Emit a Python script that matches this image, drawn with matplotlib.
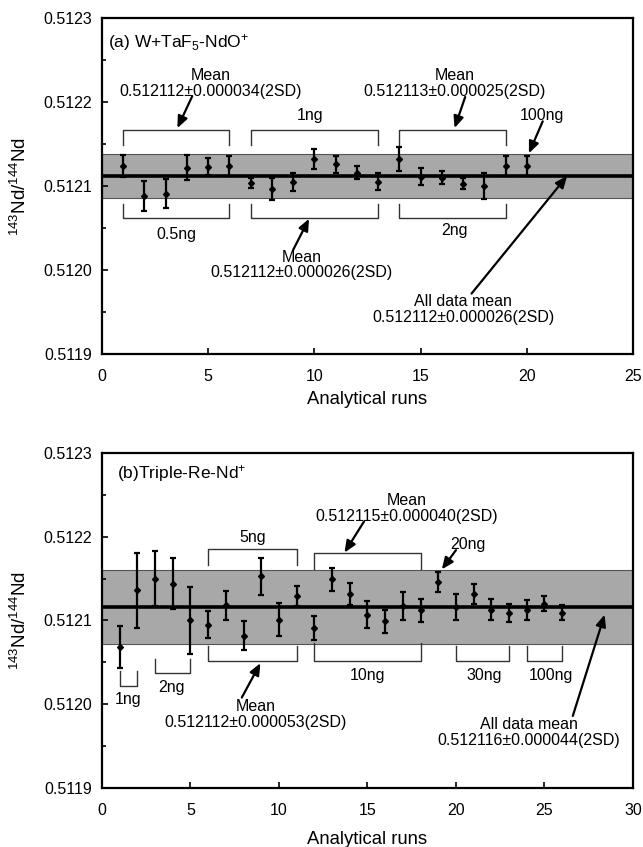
import matplotlib.pyplot as plt
from matplotlib.ticker import MultipleLocator, FormatStrFormatter

plt.rcParams['font.family'] = ['Liberation Sans', 'DejaVu Sans']
plt.rcParams['mathtext.default'] = 'regular'

# ---- (a) W+TaF5-NdO+ ----
runs_a = list(range(1, 21))
nd_a = [0.512124, 0.512088, 0.512091, 0.512122, 0.512123, 0.512124, 0.512104,
        0.512096, 0.512105, 0.512132, 0.512126, 0.512116, 0.512105, 0.512132,
        0.512111, 0.512110, 0.512103, 0.512100, 0.512124, 0.512124]
err_a = [0.000013, 0.000018, 0.000017, 0.000015, 0.000010, 0.000012, 0.000006,
         0.000013, 0.000011, 0.000012, 0.000010, 0.000008, 0.000010, 0.000014,
         0.000010, 0.000008, 0.000007, 0.000015, 0.000012, 0.000012]
mean_a, sd_a = 0.512112, 0.000026

# ---- (b) Triple-Re-Nd+ ----
runs_b = list(range(1, 27))
nd_b = [0.512068, 0.512136, 0.512150, 0.512144, 0.512100, 0.512095, 0.512118,
        0.512082, 0.512153, 0.512101, 0.512129, 0.512091, 0.512149, 0.512132,
        0.512107, 0.512099, 0.512117, 0.512112, 0.512146, 0.512116, 0.512132,
        0.512113, 0.512109, 0.512113, 0.512120, 0.512109]
err_b = [0.000025, 0.000045, 0.000033, 0.000030, 0.000040, 0.000016, 0.000017,
         0.000017, 0.000022, 0.000020, 0.000012, 0.000014, 0.000014, 0.000013,
         0.000016, 0.000014, 0.000017, 0.000014, 0.000012, 0.000016, 0.000012,
         0.000013, 0.000011, 0.000012, 0.000009, 0.000009]
mean_b, sd_b = 0.512116, 0.000044

# 括号: (起点, 终点, 横线y, 端点y)
brackets_a = [(1, 6, 0.512167, 0.512149), (7, 13, 0.512167, 0.512149),
              (14, 19, 0.512167, 0.512149), (1, 6, 0.512062, 0.512079),
              (7, 13, 0.512062, 0.512079), (14, 19, 0.512062, 0.512079)]
brackets_b = [(6, 11, 0.512185, 0.512166), (12, 18, 0.512180, 0.512162),
              (1, 2, 0.512022, 0.512040), (3, 5, 0.512037, 0.512054),
              (6, 11, 0.512052, 0.512069), (12, 18, 0.512052, 0.512073),
              (20, 23, 0.512052, 0.512069), (24, 26, 0.512052, 0.512069)]

# 文字: (x, y, 内容)
labels_a = [(3.5, 0.512042, '0.5ng'), (9.8, 0.512184, '1ng'), (16.6, 0.512047, '2ng'),
            (5.1, 0.512222, 'Mean\n0.512112±0.000034(2SD)'),
            (16.6, 0.512222, 'Mean\n0.512113±0.000025(2SD)'),
            (20.7, 0.512184, '100ng'),
            (9.4, 0.512006, 'Mean\n0.512112±0.000026(2SD)'),
            (17.0, 0.511953, 'All data mean\n0.512112±0.000026(2SD)')]
labels_b = [(8.5, 0.512199, '5ng'), (20.7, 0.512191, '20ng'),
            (17.2, 0.512234, 'Mean\n0.512115±0.000040(2SD)'),
            (1.45, 0.512006, '1ng'), (3.95, 0.512020, '2ng'),
            (15.0, 0.512034, '10ng'), (21.6, 0.512034, '30ng'), (25.35, 0.512034, '100ng'),
            (8.7, 0.511988, 'Mean\n0.512112±0.000053(2SD)'),
            (24.1, 0.511966, 'All data mean\n0.512116±0.000044(2SD)')]

# 箭头: (尾x, 尾y, 头x, 头y)
arrows_a = [(4.25, 0.512207, 3.55, 0.512169), (17.1, 0.512206, 16.6, 0.512169),
            (20.75, 0.512177, 20.1, 0.512139), (9.0, 0.512024, 9.75, 0.512061),
            (17.4, 0.511972, 21.9, 0.512112)]
arrows_b = [(14.8, 0.512218, 13.7, 0.512181), (20.0, 0.512184, 19.2, 0.512161),
            (7.9, 0.512008, 8.95, 0.512049), (26.6, 0.511986, 28.4, 0.512107)]


def draw_panel(ax, runs, nd, err, mean, sd, xmax, title, title_pos, brackets, labels, arrows):
    ax.axhspan(mean - sd, mean + sd, facecolor='#a8a8a8', edgecolor='#555555', linewidth=0.8, zorder=1)
    ax.axhline(mean, color='black', linewidth=2.6, zorder=2)
    ax.errorbar(runs, nd, yerr=err, fmt='D', color='black', markersize=3,
                elinewidth=1.6, capsize=2.5, capthick=1.6, zorder=4)
    for x0, x1, yl, ye in brackets:
        ax.plot([x0, x0, x1, x1], [ye, yl, yl, ye], color='#333333', linewidth=1.0, zorder=3)
    for x, y, s in labels:
        ax.text(x, y, s, ha='center', va='center', fontsize=11.5, linespacing=1.05, zorder=5)
    for x0, y0, x1, y1 in arrows:
        ax.annotate('', xy=(x1, y1), xytext=(x0, y0),
                    arrowprops=dict(arrowstyle='-|>,head_length=0.7,head_width=0.3',
                                    color='black', linewidth=1.6, shrinkA=0, shrinkB=0), zorder=5)
    ax.text(title_pos[0], title_pos[1], title, transform=ax.transAxes, fontsize=12.5, va='center')

    ax.set_xlim(0, xmax)
    ax.set_ylim(0.5119, 0.5123)
    ax.xaxis.set_major_locator(MultipleLocator(5))
    ax.yaxis.set_major_locator(MultipleLocator(0.0001))
    ax.yaxis.set_minor_locator(MultipleLocator(0.00005))
    ax.yaxis.set_major_formatter(FormatStrFormatter('%.4f'))
    ax.tick_params(direction='in', length=4, width=1.2, labelsize=11.5)
    ax.tick_params(axis='x', pad=11)
    ax.tick_params(axis='y', pad=7)
    ax.tick_params(which='minor', direction='in', length=3, width=1.2)
    for sp in ax.spines.values():
        sp.set_linewidth(1.6)
    ax.set_xlabel('Analytical runs', fontsize=13.3)
    ax.set_ylabel('$^{143}$Nd/$^{144}$Nd', fontsize=13.5)


fig = plt.figure(figsize=(6.43, 8.47), dpi=100)
ax1 = fig.add_axes([0.1586, 0.582, 0.8258, 0.3967])
ax2 = fig.add_axes([0.1586, 0.0697, 0.8258, 0.3955])

draw_panel(ax1, runs_a, nd_a, err_a, mean_a, sd_a, 25, '(a) W+TaF$_5$-NdO$^{+}$', (0.012, 0.928),
           brackets_a, labels_a, arrows_a)
draw_panel(ax2, runs_b, nd_b, err_b, mean_b, sd_b, 30, '(b)Triple-Re-Nd$^{+}$', (0.028, 0.94),
           brackets_b, labels_b, arrows_b)
ax1.xaxis.labelpad = 5
ax2.xaxis.labelpad = 9
ax1.yaxis.set_label_coords(-0.135, 0.5)
ax2.yaxis.set_label_coords(-0.135, 0.5)

fig.savefig('out.png', dpi=100)
